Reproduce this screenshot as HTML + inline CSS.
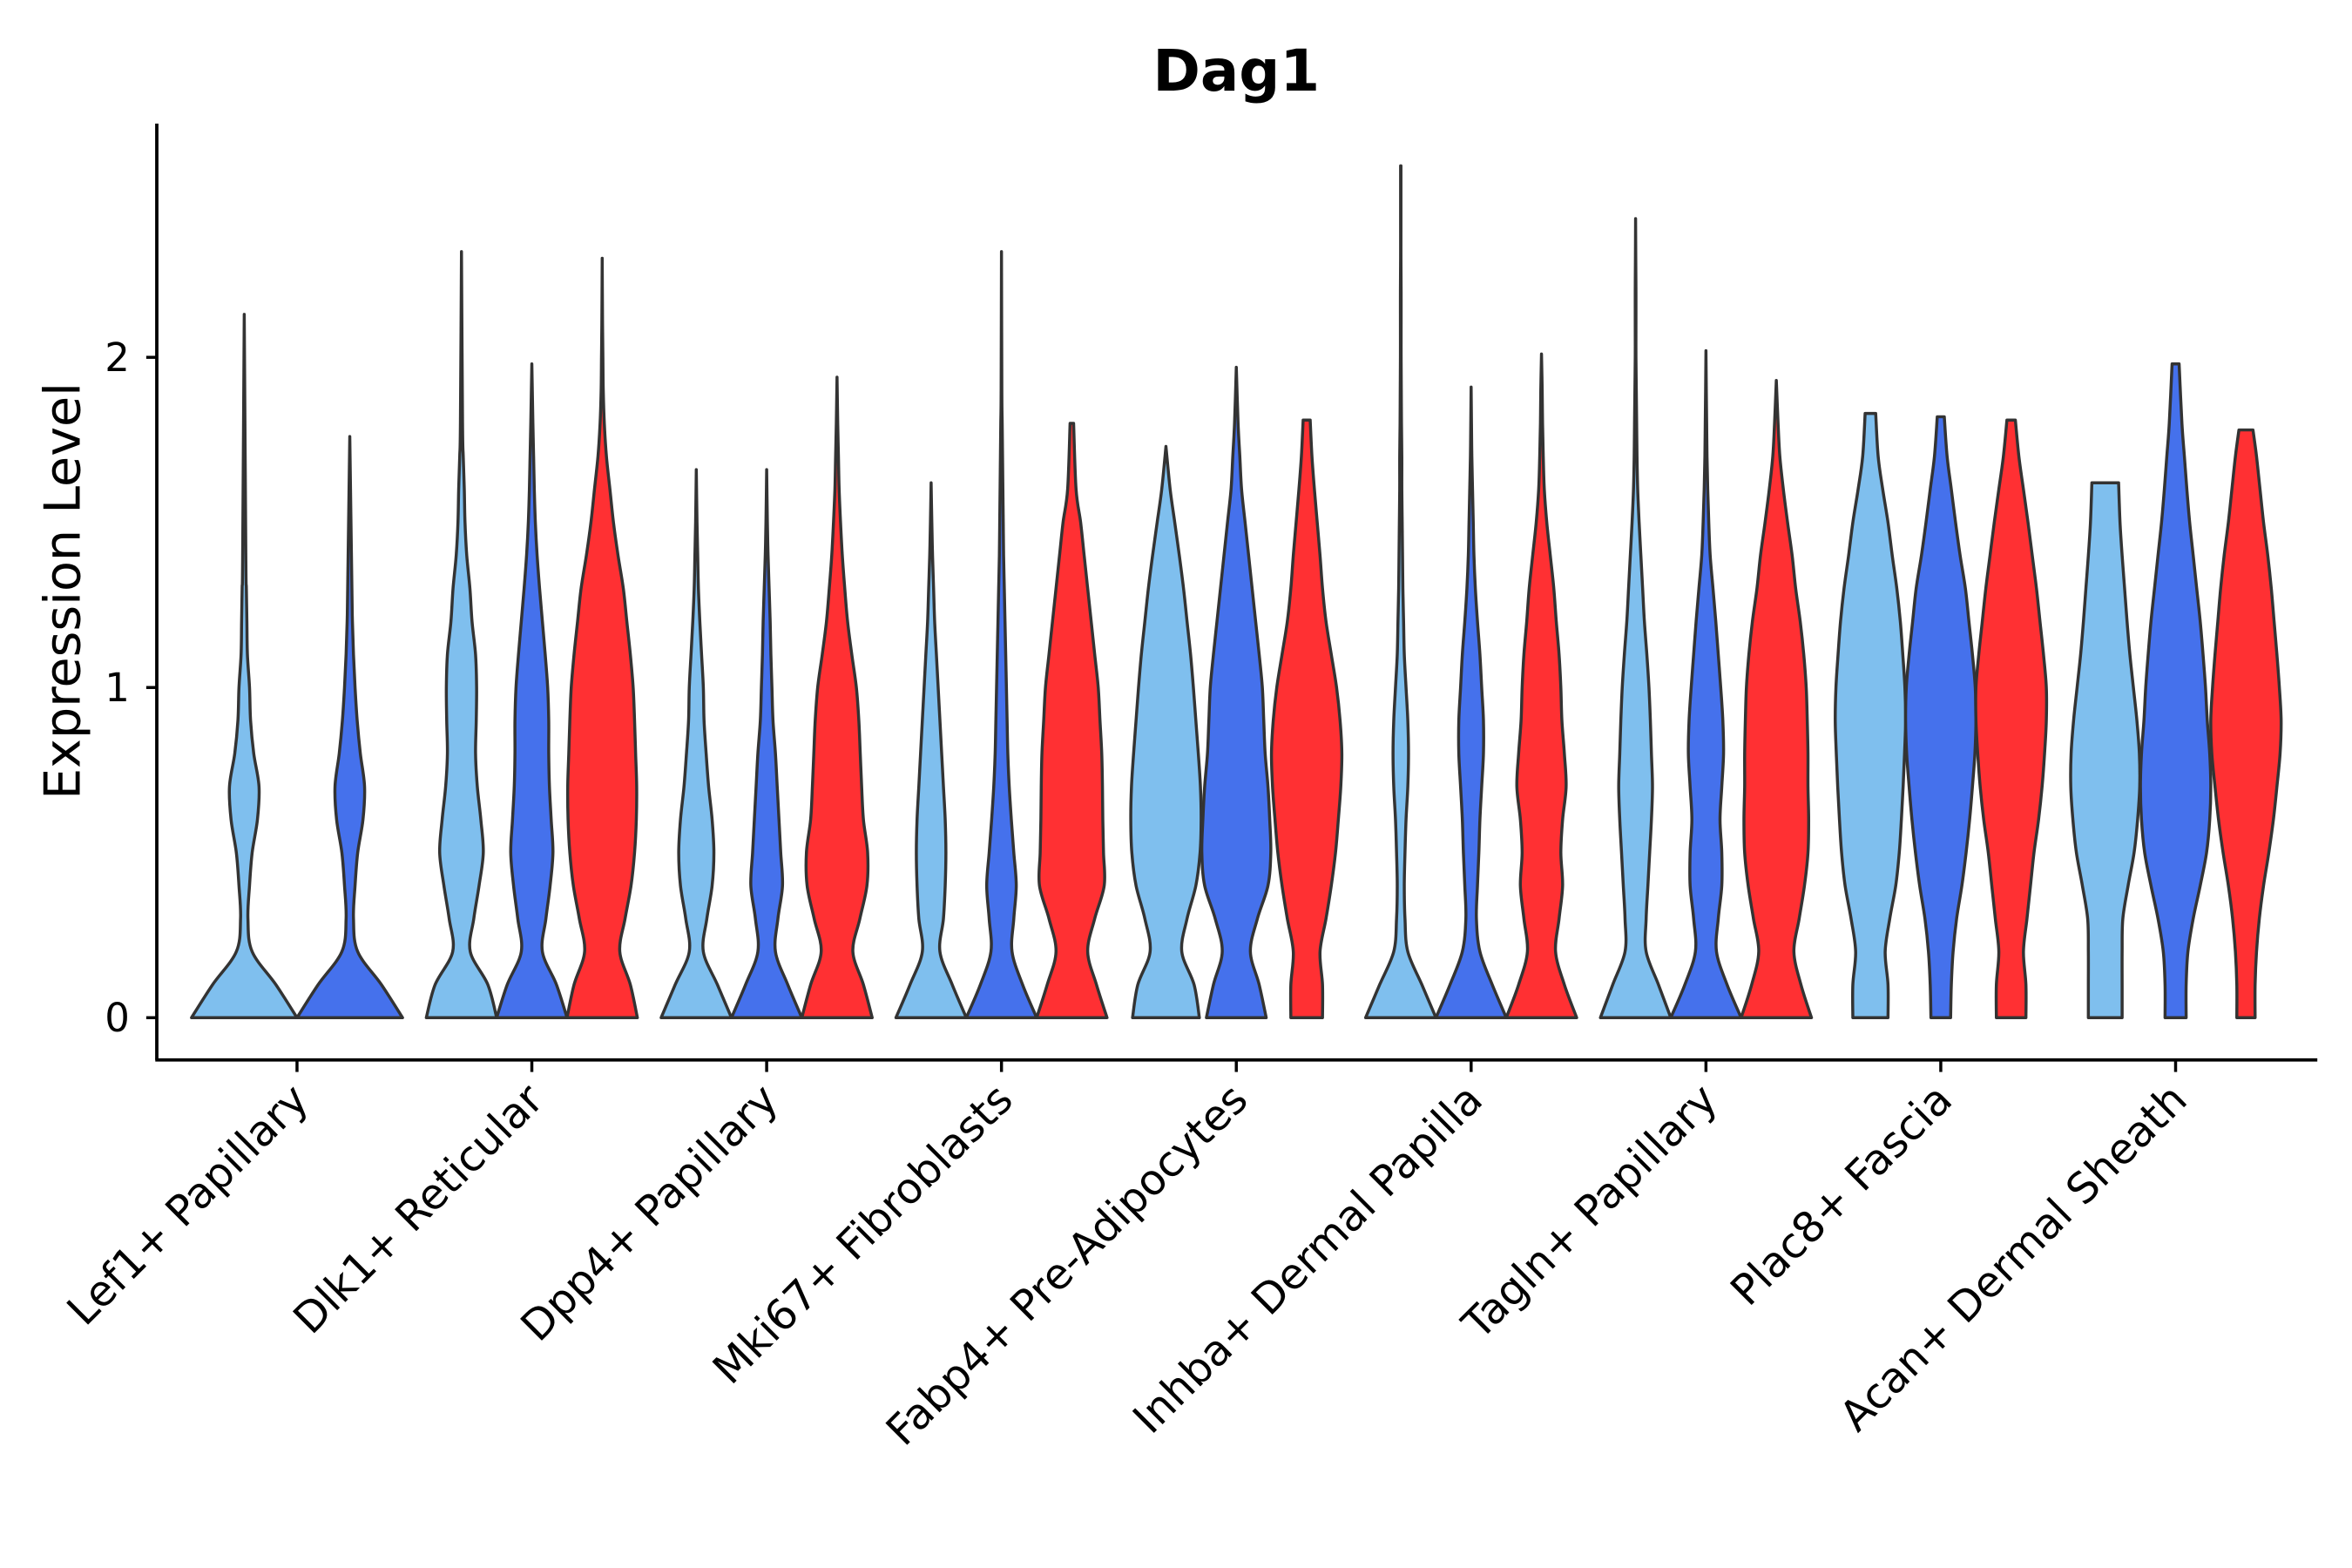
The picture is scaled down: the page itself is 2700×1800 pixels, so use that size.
<!DOCTYPE html>
<html><head><meta charset="utf-8"><style>
html,body{margin:0;padding:0;background:#fff;}
svg{display:block;}
text{font-family:"DejaVu Sans","Liberation Sans",sans-serif;fill:#000;}
</style></head><body>
<svg id="chart" width="2700" height="1800" viewBox="0 0 1560 1040" xmlns="http://www.w3.org/2000/svg">
<text x="820" y="60" text-anchor="middle" font-size="38" font-weight="bold">Dag1</text>
<text transform="translate(53,392) rotate(-90)" text-anchor="middle" font-size="33">Expression Level</text>
<g id="plot"></g>
</svg>
<script>
const categories = ["Lef1+ Papillary","Dlk1+ Reticular","Dpp4+ Papillary","Mki67+ Fibroblasts","Fabp4+ Pre-Adipocytes","Inhba+ Dermal Papilla","Tagln+ Papillary","Plac8+ Fascia","Acan+ Dermal Sheath"];
const yTicks = [0,1,2];
const groupColors = ["#7fbfee","#4571ec","#ff3033"];
const maxLight = [2.13,2.32,1.66,1.62,1.73,2.58,2.42,1.83,1.62];
const maxBlue  = [1.76,1.98,1.66,2.32,1.97,1.91,2.02,1.82,1.98];
const maxRed   = [null,2.30,1.94,1.80,1.81,2.01,1.93,1.81,1.78];
const densLight = [
[1,0.6,0.15,0.07,0.1,0.15,0.25,0.28,0.18,0.12,0.1,0.06,0.05,0.04,0.03],
[1,0.75,0.25,0.35,0.5,0.62,0.55,0.45,0.4,0.42,0.43,0.4,0.3,0.24,0.15,0.1,0.08,0.05,0.03],
[1,0.6,0.2,0.3,0.45,0.5,0.45,0.35,0.28,0.22,0.2,0.15,0.1,0.06,0.04,0.02],
[1,0.6,0.25,0.35,0.4,0.42,0.4,0.35,0.3,0.25,0.2,0.15,0.1,0.07,0.04,0.02],
[0.95,0.8,0.45,0.6,0.85,0.97,1.0,0.98,0.92,0.85,0.78,0.7,0.6,0.5,0.38,0.25,0.12],
[1,0.6,0.2,0.12,0.1,0.12,0.15,0.2,0.22,0.2,0.15,0.1,0.08,0.06,0.05,0.04,0.03,0.03,0.02,0.015,0.01,0.01,0.01,0.005,0.005,0.005],
[1,0.65,0.3,0.3,0.35,0.4,0.45,0.48,0.45,0.42,0.38,0.32,0.25,0.2,0.15,0.1,0.06,0.04,0.03,0.02,0.01,0.01,0.01,0.005],
[0.5,0.5,0.42,0.55,0.72,0.82,0.88,0.93,0.97,1.0,0.98,0.92,0.85,0.75,0.62,0.5,0.35,0.22,0.15],
[0.48,0.48,0.48,0.5,0.65,0.82,0.92,0.98,0.97,0.9,0.8,0.7,0.62,0.55,0.48,0.42,0.38]];
const densBlue = [
[1,0.6,0.15,0.07,0.1,0.15,0.25,0.28,0.2,0.14,0.1,0.07,0.05,0.04],
[1,0.7,0.3,0.4,0.52,0.6,0.55,0.5,0.48,0.48,0.45,0.38,0.3,0.22,0.15,0.1,0.07,0.05,0.03],
[1,0.6,0.25,0.32,0.45,0.4,0.35,0.3,0.25,0.18,0.15,0.12,0.1,0.07,0.04,0.02],
[1,0.6,0.3,0.35,0.42,0.35,0.28,0.22,0.18,0.16,0.14,0.12,0.1,0.08,0.06,0.05,0.04,0.03,0.02,0.01],
[0.85,0.65,0.4,0.6,0.9,0.98,0.95,0.9,0.82,0.78,0.74,0.65,0.55,0.45,0.35,0.25,0.15,0.1,0.05],
[1,0.6,0.25,0.15,0.18,0.22,0.25,0.3,0.35,0.35,0.3,0.25,0.18,0.12,0.08,0.06,0.04,0.02,0.01],
[1,0.6,0.3,0.35,0.45,0.45,0.4,0.45,0.5,0.48,0.42,0.35,0.28,0.2,0.12,0.08,0.05,0.03,0.02,0.01],
[0.28,0.3,0.35,0.45,0.6,0.72,0.82,0.9,0.97,1.0,0.98,0.9,0.8,0.7,0.55,0.42,0.3,0.18,0.1],
[0.3,0.3,0.35,0.5,0.7,0.88,0.97,1.0,0.97,0.9,0.85,0.78,0.7,0.6,0.5,0.4,0.32,0.25,0.18,0.1]];
const densRed = [
null,
[1,0.8,0.5,0.65,0.82,0.92,0.97,0.98,0.95,0.92,0.88,0.8,0.7,0.6,0.45,0.32,0.22,0.12,0.06,0.03,0.02,0.01],
[1,0.75,0.45,0.65,0.85,0.87,0.75,0.7,0.66,0.62,0.55,0.42,0.3,0.22,0.15,0.1,0.06,0.04,0.02],
[1,0.7,0.45,0.65,0.92,0.9,0.88,0.87,0.85,0.8,0.75,0.65,0.55,0.45,0.35,0.25,0.12,0.05],
[0.45,0.45,0.38,0.55,0.7,0.82,0.9,0.97,1.0,0.95,0.85,0.7,0.55,0.45,0.38,0.3,0.22,0.15,0.1],
[1,0.65,0.4,0.5,0.6,0.55,0.6,0.7,0.65,0.58,0.55,0.5,0.42,0.35,0.25,0.15,0.08,0.05,0.03,0.02],
[1,0.7,0.5,0.65,0.8,0.9,0.92,0.9,0.9,0.88,0.85,0.78,0.68,0.55,0.45,0.32,0.2,0.1,0.05],
[0.42,0.42,0.35,0.45,0.55,0.65,0.78,0.88,0.95,1.0,1.0,0.92,0.82,0.72,0.6,0.48,0.35,0.22,0.12],
[0.26,0.26,0.3,0.38,0.5,0.65,0.78,0.88,0.97,1.0,0.95,0.88,0.8,0.72,0.62,0.5,0.4,0.3,0.2]];

const NS="http://www.w3.org/2000/svg";
const plot=document.getElementById('plot');
const L=104,R=1537,T=82,B=703;
const yScale=v=>675-v*219;
const xScale=i=>197+i*155.75;
function mk(tag,attrs){const e=document.createElementNS(NS,tag);for(const k in attrs)e.setAttribute(k,attrs[k]);plot.appendChild(e);return e;}
function smooth(p){
  let d="";
  for(let i=0;i<p.length-1;i++){
    const p0=p[Math.max(0,i-1)],p1=p[i],p2=p[i+1],p3=p[Math.min(p.length-1,i+2)];
    const c1=[p1[0]+(p2[0]-p0[0])/6,p1[1]+(p2[1]-p0[1])/6];
    const c2=[p2[0]-(p3[0]-p1[0])/6,p2[1]-(p3[1]-p1[1])/6];
    d+=` C${c1[0].toFixed(2)},${c1[1].toFixed(2)} ${c2[0].toFixed(2)},${c2[1].toFixed(2)} ${p2[0].toFixed(2)},${p2[1].toFixed(2)}`;
  }
  return d;
}

categories.forEach((c,i)=>{
  const groups=[[densLight[i],maxLight[i]],[densBlue[i],maxBlue[i]],[densRed[i],maxRed[i]]];
  const present=groups.map((g,k)=>[g,k]).filter(p=>p[0][1]!=null);
  const n=present.length;
  const slot=140/n, half=slot/2;
  present.forEach((p,j)=>{
    const [dens,mx]=p[0];const k=p[1];
    const cx=xScale(i)-70+slot*(j+0.5);
    const pts=[];
    for(let t=0;t<dens.length;t++){const y=Math.min(t*0.1,mx);pts.push([y,dens[t]]);}
    const lastY=(dens.length-1)*0.1;
    const flat = !(mx-lastY>0.1);
    if(!flat){pts.push([mx,0]);} else {pts[pts.length-1]=[mx,dens[dens.length-1]];}
    const left=pts.map(q=>[cx-q[1]*half,yScale(q[0])]);
    const right=pts.slice().reverse().map(q=>[cx+q[1]*half,yScale(q[0])]);
    let d="M"+left[0][0].toFixed(2)+","+left[0][1].toFixed(2)+smooth(left);
    d+=" L"+right[0][0].toFixed(2)+","+right[0][1].toFixed(2)+smooth(right)+" Z";
    const path=mk('path',{d:d,fill:groupColors[k],stroke:'#333','stroke-width':2,'stroke-linejoin':'round'});
    
    
  });
  const tk=mk('line',{x1:xScale(i),x2:xScale(i),y1:B,y2:B+8,stroke:'#000','stroke-width':2});
  
  
  const lb=mk('text',{transform:`translate(${xScale(i)+9},${B+28}) rotate(-45)`,'text-anchor':'end','font-size':28});
  lb.textContent=c;
  
  
});
yTicks.forEach(v=>{
  const tk=mk('line',{x1:L-7,x2:L,y1:yScale(v),y2:yScale(v),stroke:'#000','stroke-width':2});
  
  
  const lb=mk('text',{x:L-18,y:yScale(v)+9,'text-anchor':'end','font-size':26});
  lb.textContent=String(v);
  
  
});
const ya=mk('line',{x1:L,x2:L,y1:T,y2:B,stroke:'#000','stroke-width':2.2});


const xa=mk('line',{x1:L-1,x2:R,y1:B,y2:B,stroke:'#000','stroke-width':2.2});


</script>
</body></html>
